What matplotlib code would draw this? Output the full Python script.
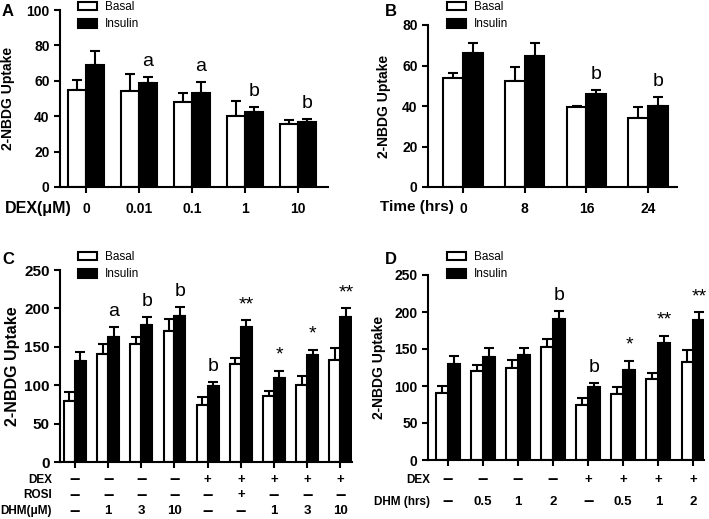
import numpy as np
import matplotlib
matplotlib.use('Agg')
import matplotlib.pyplot as plt
from matplotlib.patches import Patch
from matplotlib.transforms import blended_transform_factory

# ---- data ----
a_labels = ['0', '0.01', '0.1', '1', '10']
a_basal = [54.7, 54.3, 48.0, 40.0, 35.5]
a_basal_err = [5.7, 9.7, 5.0, 8.7, 2.5]
a_ins = [69.2, 58.5, 53.0, 42.3, 36.6]
a_ins_err = [7.8, 3.5, 6.4, 3.0, 1.9]
a_marks = ['', 'a', 'a', 'b', 'b']

b_labels = ['0', '8', '16', '24']
b_basal = [53.6, 52.3, 39.3, 34.3]
b_basal_err = [2.8, 7.1, 0.7, 5.0]
b_ins = [66.0, 64.7, 45.9, 40.1]
b_ins_err = [5.3, 6.6, 2.0, 4.5]
b_marks = ['', '', 'b', 'b']

c_dex = ['−', '−', '−', '−', '+', '+', '+', '+', '+']
c_rosi = ['−', '−', '−', '−', '−', '+', '−', '−', '−']
c_dhm = ['−', '1', '3', '10', '−', '−', '1', '3', '10']
c_basal = [80, 141, 153, 170, 74, 127, 86, 100, 133]
c_basal_err = [11, 12, 10, 16, 11, 9, 7, 12, 15]
c_ins = [131, 163, 179, 190, 99, 176, 110, 139, 189]
c_ins_err = [12, 13, 10, 12, 5, 9, 9, 7, 11]
c_marks = ['', 'a', 'b', 'b', 'b', '**', '*', '*', '**']

d_dex = ['−', '−', '−', '−', '+', '+', '+', '+']
d_dhm = ['−', '0.5', '1', '2', '−', '0.5', '1', '2']
d_basal = [90, 120, 124, 153, 74, 89, 109, 133]
d_basal_err = [10, 9, 11, 11, 10, 9, 8, 15]
d_ins = [130, 139, 142, 190, 99, 121, 158, 189]
d_ins_err = [11, 13, 9, 11, 5, 13, 10, 11]
d_marks = ['', '', '', 'b', 'b', '*', '**', '**']

plt.rcParams['font.family'] = ['Liberation Sans', 'DejaVu Sans']

W, H = 709, 519
fig = plt.figure(figsize=(W / 100, H / 100), dpi=100)


def fx(x):
    return x / W


def fy(y):
    return 1 - y / H


def panel(left, top, right, bottom, x0, x1, ymax, ystep, basal, berr, ins, ierr, marks, bw):
    ax = fig.add_axes([fx(left), fy(bottom), fx(right - left), (bottom - top) / H])
    x = np.arange(len(basal))
    ax.bar(x - bw / 2, basal, bw, color='white', edgecolor='black', linewidth=1.5, zorder=2)
    ax.bar(x + bw / 2, ins, bw, color='black', edgecolor='black', linewidth=1.5, zorder=2)
    ax.errorbar(x - bw / 2, basal, yerr=[np.zeros(len(basal)), berr], fmt='none',
                ecolor='black', elinewidth=1.5, capsize=3.5, capthick=1.5, zorder=1)
    ax.errorbar(x + bw / 2, ins, yerr=[np.zeros(len(ins)), ierr], fmt='none',
                ecolor='black', elinewidth=1.5, capsize=3.5, capthick=1.5, zorder=1)
    for i, m in enumerate(marks):
        if m:
            ax.annotate(m, (x[i] + bw / 2, ins[i] + ierr[i]), xytext=(0, 5),
                        textcoords='offset points', ha='center', va='bottom', fontsize=14)
    ax.set_xlim(x0, x1)
    ax.set_ylim(0, ymax)
    ax.set_yticks(np.arange(0, ymax + 1, ystep))
    for s in ['top', 'right']:
        ax.spines[s].set_visible(False)
    for s in ['left', 'bottom']:
        ax.spines[s].set_linewidth(1.5)
    ax.tick_params(width=1.5, length=4, labelsize=10)
    for t in ax.get_yticklabels():
        t.set_fontweight('bold')
    ax.set_xticks(x)
    return ax


def legend(x, y):
    h = [Patch(facecolor='white', edgecolor='black', linewidth=1.5),
         Patch(facecolor='black', edgecolor='black', linewidth=1.5)]
    fig.legend(h, ['Basal', 'Insulin'], loc='upper left', bbox_to_anchor=(fx(x), fy(y)),
               frameon=False, fontsize=8.5, handlelength=1.6, handleheight=0.75,
               handletextpad=0.7, labelspacing=0.45, borderaxespad=0, borderpad=0)


def sign_row(ax, row, ypix):
    tr = blended_transform_factory(ax.transData, fig.transFigure)
    for i, s in enumerate(row):
        if s == '−':
            ax.text(i, fy(ypix), '−', transform=tr, fontsize=10.5, family='DejaVu Sans',
                    fontweight='bold', ha='center', va='center')
        else:
            ax.text(i, fy(ypix), s, transform=tr, fontweight='bold', fontsize=9.5,
                    ha='center', va='center')


# ---- A ----
axA = panel(60, 10, 328, 187, -0.49, 4.57, 100, 20, a_basal, a_basal_err, a_ins, a_ins_err, a_marks, 0.34)
axA.set_xticklabels(a_labels, fontweight='bold', fontsize=10)
axA.tick_params(axis='x', pad=7)
axA.set_ylabel('2-NBDG Uptake', fontweight='bold', fontsize=10, labelpad=8)
fig.text(fx(5), fy(208), 'DEX(μM)', fontweight='bold', fontsize=11.5, va='center')
fig.text(fx(2), fy(12), 'A', fontweight='bold', fontsize=12, va='center')
legend(78, 1)

# ---- B ----
axB = panel(428, 25, 677, 187, -0.57, 3.47, 80, 20, b_basal, b_basal_err, b_ins, b_ins_err, b_marks, 0.32)
axB.set_xticklabels(b_labels, fontweight='bold', fontsize=10)
axB.tick_params(axis='x', pad=7)
axB.set_ylabel('2-NBDG Uptake', fontweight='bold', fontsize=10, labelpad=8)
fig.text(fx(380), fy(207), 'Time (hrs)', fontweight='bold', fontsize=11, va='center')
fig.text(fx(385), fy(12), 'B', fontweight='bold', fontsize=12, va='center')
legend(447, 1)

# ---- C ----
axC = panel(60, 270, 352, 462, -0.45, 8.35, 250, 50, c_basal, c_basal_err, c_ins, c_ins_err, c_marks, 0.33)
axC.set_xticklabels([])
axC.tick_params(axis='y', labelsize=11)
axC.set_ylabel('2-NBDG Uptake', fontweight='bold', fontsize=11.5, labelpad=3)
for row, ypix, name in [(c_dex, 480, 'DEX'), (c_rosi, 495, 'ROSI'), (c_dhm, 511, 'DHM(μM)')]:
    fig.text(fx(52), fy(ypix), name, fontweight='bold', fontsize=8.5, ha='right', va='center')
    sign_row(axC, row, ypix)
fig.text(fx(2), fy(260), 'C', fontweight='bold', fontsize=12, va='center')
legend(78, 251)

# ---- D ----
axD = panel(428, 275, 704, 460, -0.56, 7.3, 250, 50, d_basal, d_basal_err, d_ins, d_ins_err, d_marks, 0.34)
axD.set_xticklabels([])
axD.set_ylabel('2-NBDG Uptake', fontweight='bold', fontsize=10, labelpad=6)
for row, ypix, name in [(d_dex, 480, 'DEX'), (d_dhm, 502, 'DHM (hrs)')]:
    fig.text(fx(430), fy(ypix), name, fontweight='bold', fontsize=8.5, ha='right', va='center')
    sign_row(axD, row, ypix)
fig.text(fx(385), fy(260), 'D', fontweight='bold', fontsize=12, va='center')
legend(447, 251)

fig.savefig('out.png', dpi=100)
